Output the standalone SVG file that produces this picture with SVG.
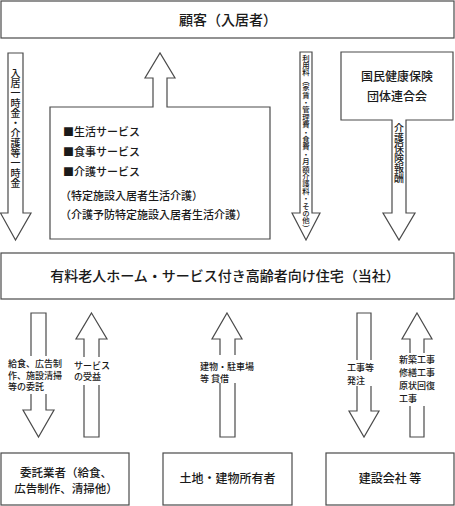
<svg xmlns="http://www.w3.org/2000/svg" width="455" height="506" viewBox="0 0 455 506">
<style>
.b{fill:#fff;stroke:#4a4a4a;stroke-width:1.2}
.a{fill:#fff;stroke:#4a4a4a;stroke-width:1.2;stroke-linejoin:miter}
text{font-family:"Noto Sans CJK JP","Noto Sans CJK SC",sans-serif;fill:#1a1a1a;font-weight:500}
.t14{font-size:14px}
.t12{font-size:12px}
.t11{font-size:11px}
.t9{font-size:9px}
.v{writing-mode:vertical-rl}
.bg{fill:#fff}
</style>
<rect width="455" height="506" fill="#fff"/>
<g id="customer">
<rect class="b" x="1" y="1" width="453" height="37"/>
<text class="t14" x="228" y="25" text-anchor="middle">顧客（入居者）</text>
</g>
<g id="company">
<rect class="b" x="1" y="253" width="453" height="46"/>
<text class="t14" x="225" y="280.5" text-anchor="middle">有料老人ホーム・サービス付き高齢者向け住宅（当社）</text>
</g>
<g id="services">
<path class="a" d="M50,107 H153 V78 H145 L160,53 L175,78 H167 V107 H270 V239 H50 Z"/>
<text class="t11" x="63" y="136">■生活サービス</text>
<text class="t11" x="63" y="156">■食事サービス</text>
<text class="t11" x="63" y="176">■介護サービス</text>
<text class="t11" x="60" y="199.5">（特定施設入居者生活介護）</text>
<text class="t11" x="60" y="219">（介護予防特定施設入居者生活介護）</text>
</g>
<g id="kokuho">
<path class="a" d="M341,52 H453 V120 H406 V213 H415 L399,240 L383,213 H392 V120 H341 Z"/>
<text class="t12" x="397" y="81" text-anchor="middle">国民健康保険</text>
<text class="t12" x="397" y="101" text-anchor="middle">団体連合会</text>
<text class="v" x="399" y="123" style="font-size:10px">介護保険報酬</text>
</g>
<g id="outsourcer">
<rect class="b" x="1" y="453" width="128" height="52"/>
<text x="66" y="476.5" text-anchor="middle" style="font-size:11.5px">委託業者（給食、</text>
<text x="66" y="492.5" text-anchor="middle" style="font-size:11.5px">広告制作、清掃他）</text>
</g>
<g id="owner">
<rect class="b" x="163" y="453" width="129" height="52"/>
<text class="t12" x="227.5" y="483" text-anchor="middle">土地・建物所有者</text>
</g>
<g id="builder">
<rect class="b" x="326" y="453" width="128" height="52"/>
<text class="t12" x="390" y="483" text-anchor="middle">建設会社 等</text>
</g>
<g id="connectors">
<path class="a" d="M8,53 H23 V213 H31 L15.5,240 L0.5,213 H8 Z"/>
<text class="v" x="15.5" y="68" style="font-size:10px">入居一時金・介護等一時金</text>
<path class="a" d="M300,52 H312 V213 H320 L306,240 L292,213 H300 Z"/>
<text class="v" x="306" y="54" style="font-size:7.4px">利用料（家賃・管理費・食費・月額介護料・その他）</text>

<path class="a" d="M31,313 H46 V410 H54 L38.5,437 L23,410 H31 Z"/>
<rect class="bg" x="7" y="356" width="57" height="38"/>
<text class="t9" x="8" y="367">給食、広告制</text>
<text class="t9" x="8" y="378.5">作、施設清掃</text>
<text class="t9" x="8" y="390">等の委託</text>

<path class="a" d="M91.5,313 L107,339 H99 V437 H84 V339 H76 Z"/>
<rect class="bg" x="73" y="357" width="30" height="28"/>
<text class="t9" x="74" y="368.5">サービス</text>
<text class="t9" x="74" y="380">の受益</text>

<path class="a" d="M227,313 L242,339 H235 V437 H220 V339 H212 Z"/>
<rect class="bg" x="199" y="355" width="56" height="28"/>
<text class="t9" x="200" y="369.5">建物・駐車場</text>
<text class="t9" x="200" y="381.5">等 貸借</text>

<path class="a" d="M357,313 H371 V411 H379 L364,437 L349,411 H357 Z"/>
<rect class="bg" x="346" y="360" width="30" height="26"/>
<text class="t9" x="347" y="370.5">工事等</text>
<text class="t9" x="347" y="383.5">発注</text>

<path class="a" d="M417,313 L432,339 H424 V437 H410 V339 H402 Z"/>
<rect class="bg" x="398" y="353" width="38" height="53"/>
<text class="t9" x="399" y="362.5">新築工事</text>
<text class="t9" x="399" y="375.5">修繕工事</text>
<text class="t9" x="399" y="389">原状回復</text>
<text class="t9" x="399" y="402">工事</text>
</g>
</svg>
